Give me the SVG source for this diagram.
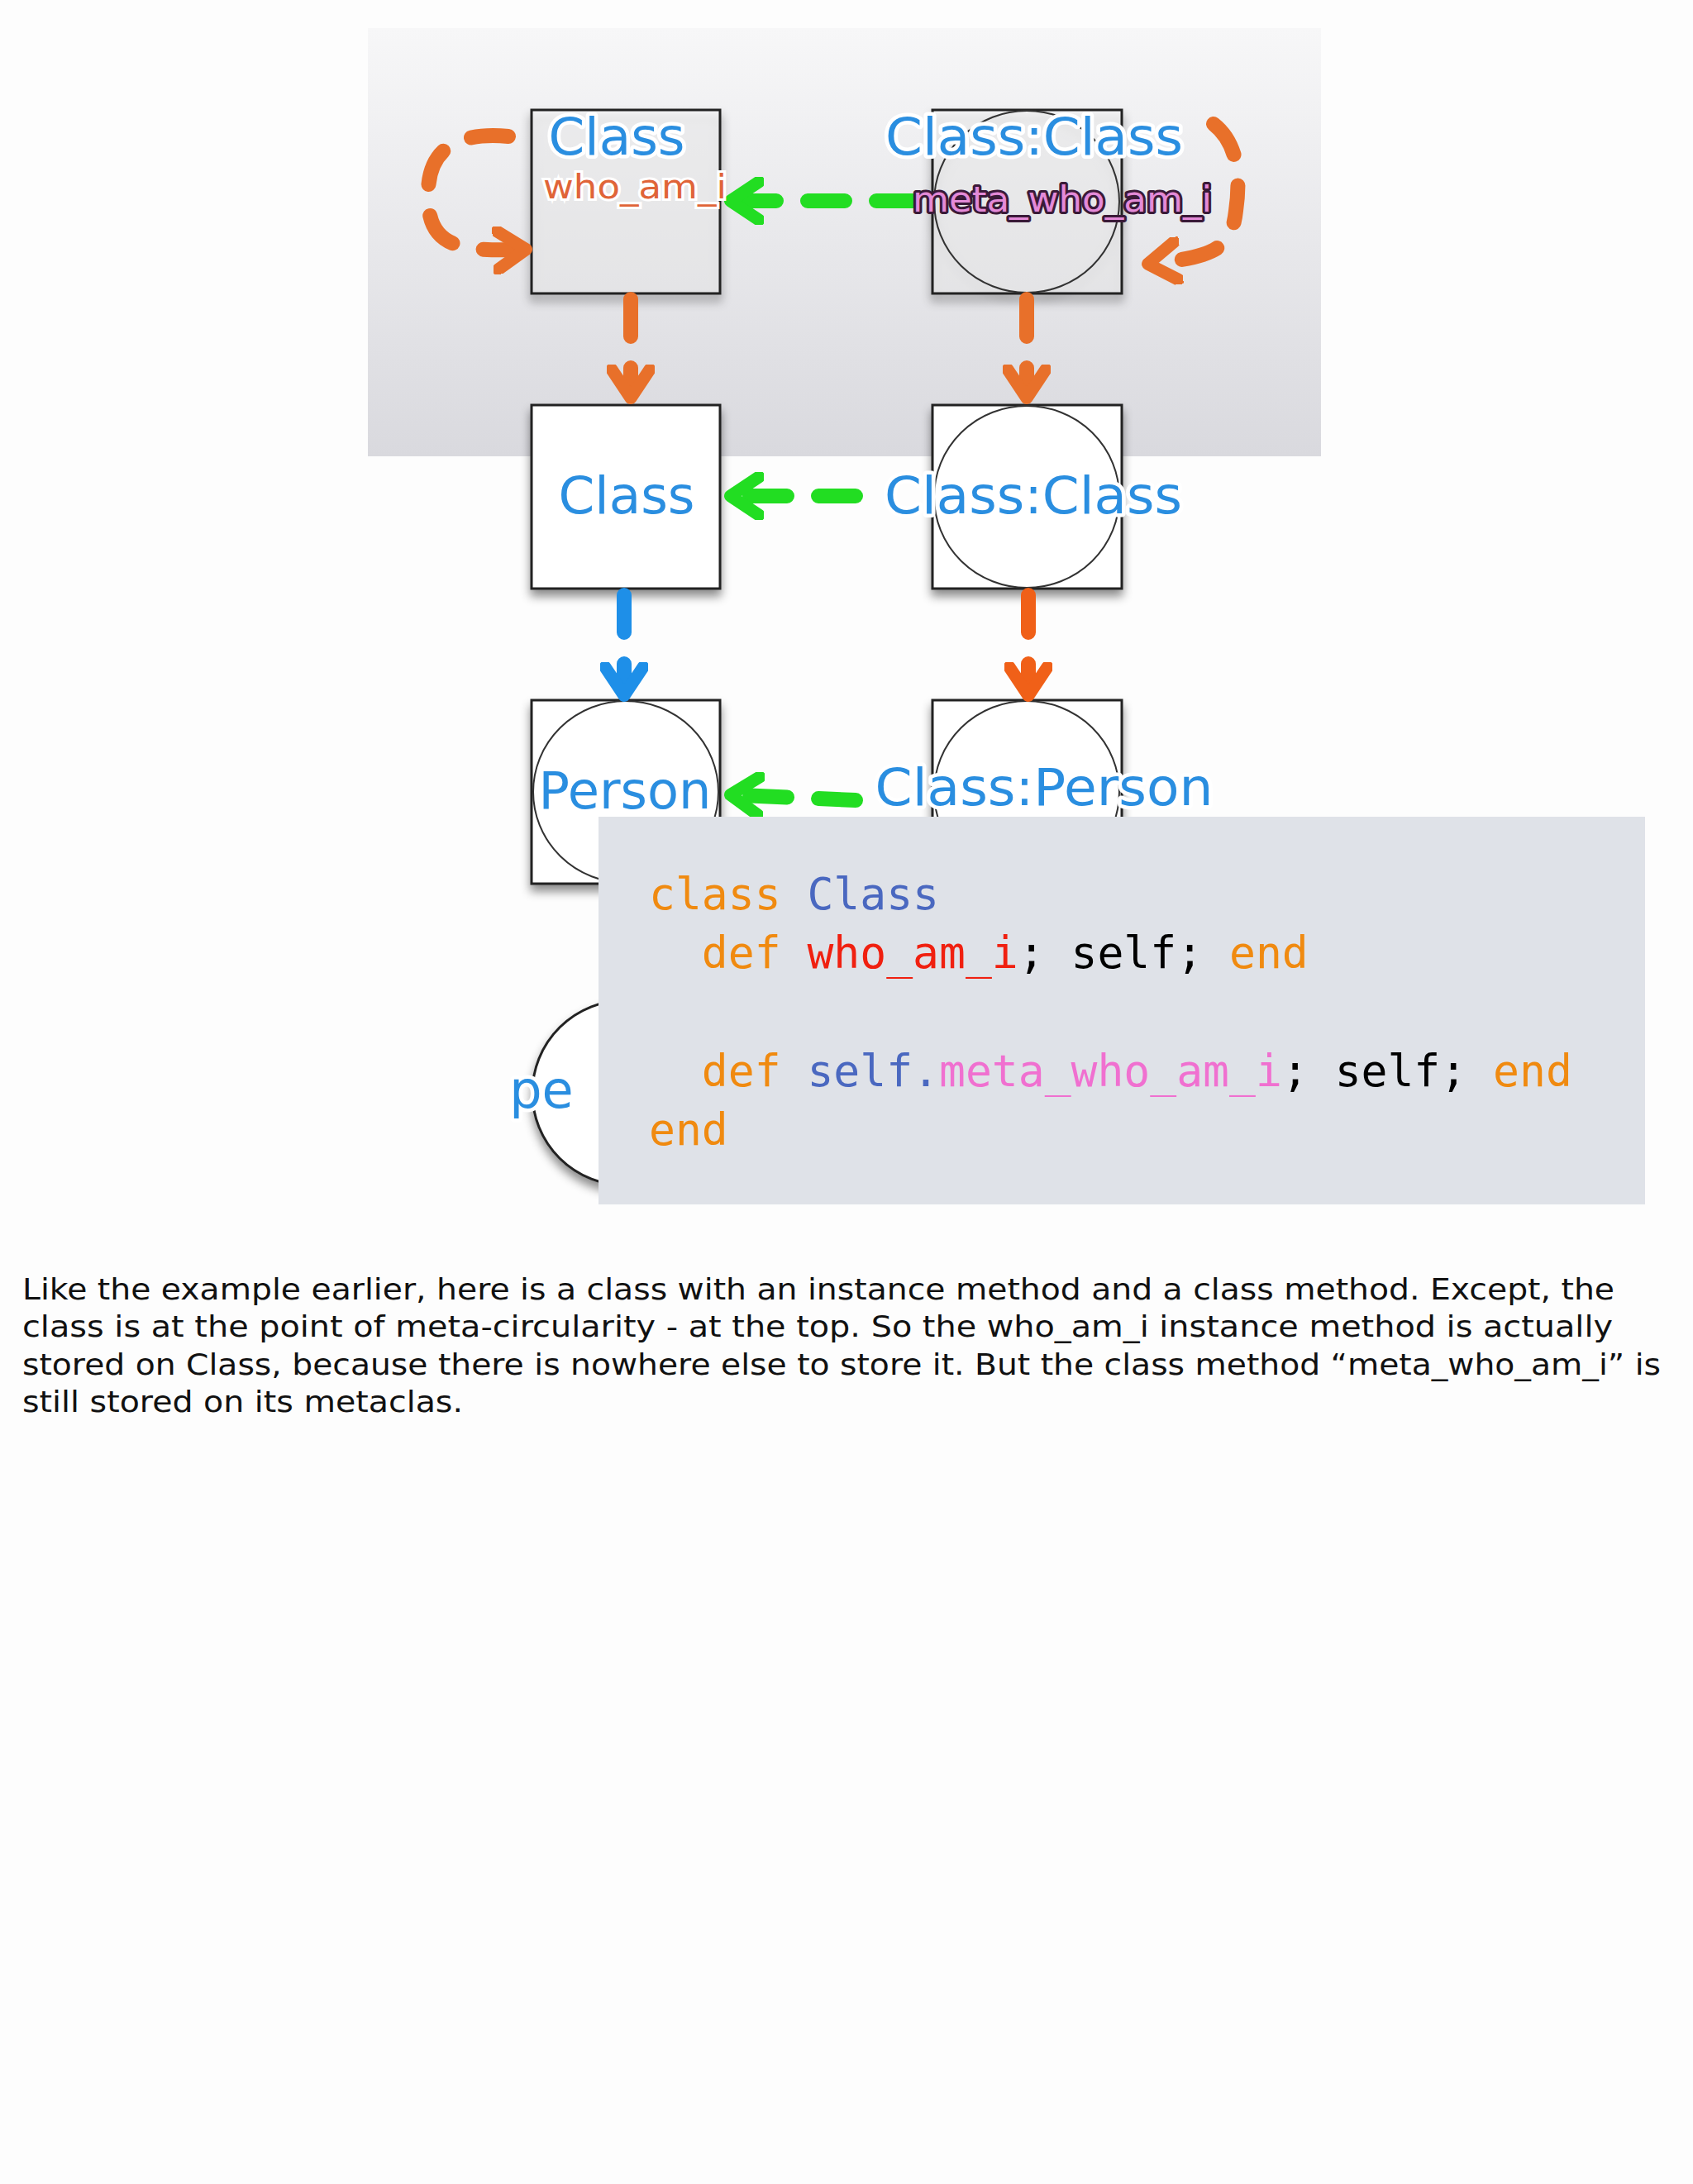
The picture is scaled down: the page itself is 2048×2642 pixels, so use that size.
<svg xmlns="http://www.w3.org/2000/svg" width="2048" height="2642" viewBox="0 0 2048 2642">
<defs>
<linearGradient id="pg" x1="0" y1="0" x2="0" y2="1"><stop offset="0" stop-color="#f7f7f8"/><stop offset="1" stop-color="#d9d9de"/></linearGradient>
<filter id="sh" x="-20%" y="-20%" width="140%" height="150%"><feDropShadow dx="0" dy="8" stdDeviation="6" flood-color="#000" flood-opacity="0.45"/></filter>
<marker id="ah" viewBox="0 0 10 10" refX="5" refY="5" markerWidth="3.2" markerHeight="3.2" orient="auto-start-reverse" markerUnits="strokeWidth"><path d="M1,1 L7,5 L1,9" fill="none" stroke="context-stroke" stroke-width="2.6" stroke-linecap="round" stroke-linejoin="round"/></marker>
</defs>
<style>
.box{fill:#fff;fill-opacity:0.35;stroke:#222;stroke-width:3}
.boxw{fill:#fff;stroke:#222;stroke-width:3}
.circ{fill:none;stroke:#333;stroke-width:2}
.lbl{font-family:"DejaVu Sans",sans-serif;font-weight:normal;fill:#2a8ee0;stroke:#fff;stroke-width:9;paint-order:stroke;stroke-linejoin:round;text-anchor:middle}
.conn{fill:none;stroke-width:18;stroke-linecap:round;stroke-dasharray:45 38}
.code{font-family:"DejaVu Sans Mono",monospace;font-size:53px}
.body{font-family:"DejaVu Sans",sans-serif;font-size:36px;fill:#111}
</style>
<rect width="2048" height="2642" fill="#fdfdfd"/>
<rect x="445" y="34" width="1153" height="518" fill="url(#pg)"/>
<g id="n-class-top" filter="url(#sh)"><rect class="box" x="643" y="133" width="228" height="222"/></g>
<g id="n-classclass-top" filter="url(#sh)"><rect class="box" x="1128" y="133" width="229" height="222"/><ellipse class="circ" cx="1242" cy="244" rx="112" ry="110"/></g>
<g id="n-class-mid" filter="url(#sh)"><rect class="boxw" x="643" y="490" width="228" height="222"/></g>
<g id="n-classclass-mid" filter="url(#sh)"><rect class="boxw" x="1128" y="490" width="229" height="222"/><ellipse class="circ" cx="1242" cy="601" rx="112" ry="110"/></g>
<g id="n-person" filter="url(#sh)"><rect class="boxw" x="643" y="847" width="228" height="222"/><ellipse class="circ" cx="757" cy="958" rx="112" ry="110"/></g>
<g id="n-classperson" filter="url(#sh)"><rect class="boxw" x="1128" y="847" width="229" height="222"/><ellipse class="circ" cx="1242" cy="958" rx="112" ry="110"/></g>
<g id="n-pe" filter="url(#sh)"><ellipse cx="757" cy="1322" rx="113" ry="112" fill="#fff" stroke="#222" stroke-width="3"/></g>
<g id="connectors">
<path class="conn" stroke="#e8702a" d="M615,165 C560,160 520,175 518,230 C516,290 540,305 625,302" marker-end="url(#ah)"/>
<path class="conn" stroke="#e8702a" d="M1468,150 C1500,175 1500,220 1495,255 C1490,300 1470,310 1400,318" marker-end="url(#ah)"/>
<path class="conn" stroke="#22dd22" d="M1105,243 L895,243" marker-end="url(#ah)"/>
<path class="conn" stroke="#e8702a" d="M763,362 L763,470" marker-end="url(#ah)"/>
<path class="conn" stroke="#e8702a" d="M1242,362 L1242,470" marker-end="url(#ah)"/>
<path class="conn" stroke="#22dd22" d="M1035,600 L895,600" marker-end="url(#ah)"/>
<path class="conn" stroke="#1e8fe8" d="M755,720 L755,830" marker-end="url(#ah)"/>
<path class="conn" stroke="#f06018" d="M1244,720 L1244,830" marker-end="url(#ah)"/>
<path class="conn" stroke="#22dd22" d="M1035,968 L895,962" marker-end="url(#ah)"/>
</g>
<text class="lbl" x="746" y="187" font-size="62" textLength="165" lengthAdjust="spacingAndGlyphs">Class</text>
<text x="768" y="240" font-size="40" text-anchor="middle" font-family="DejaVu Sans,sans-serif" fill="#e06438" stroke="#fff" stroke-width="6" paint-order="stroke" textLength="222" lengthAdjust="spacingAndGlyphs">who_am_i</text>
<text class="lbl" x="1251" y="187" font-size="62" textLength="360" lengthAdjust="spacingAndGlyphs">Class:Class</text>
<text x="1285" y="256" font-size="42" text-anchor="middle" font-family="DejaVu Sans,sans-serif" fill="#e48ad8" stroke="#3a1a38" stroke-width="6" paint-order="stroke" stroke-linejoin="round" textLength="362" lengthAdjust="spacingAndGlyphs">meta_who_am_i</text>
<text class="lbl" x="758" y="621" font-size="62" textLength="165" lengthAdjust="spacingAndGlyphs">Class</text>
<text class="lbl" x="1250" y="621" font-size="62" textLength="360" lengthAdjust="spacingAndGlyphs">Class:Class</text>
<text class="lbl" x="756" y="978" font-size="62" textLength="209" lengthAdjust="spacingAndGlyphs">Person</text>
<text class="lbl" x="1263" y="974" font-size="62" textLength="409" lengthAdjust="spacingAndGlyphs">Class:Person</text>
<text class="lbl" x="655" y="1340" font-size="62" text-anchor="start">pe</text>
<g id="code">
<rect x="724" y="988" width="1266" height="469" fill="#dfe2e8"/>
<text class="code" x="785" y="1100"><tspan fill="#f08a10">class </tspan><tspan fill="#4a68c0">Class</tspan></text>
<text class="code" x="785" y="1171" xml:space="preserve"><tspan fill="#f08a10">  def </tspan><tspan fill="#f02010">who_am_i</tspan><tspan fill="#000">; self; </tspan><tspan fill="#f08a10">end</tspan></text>
<text class="code" x="785" y="1314" xml:space="preserve"><tspan fill="#f08a10">  def </tspan><tspan fill="#4a68c0">self.</tspan><tspan fill="#f070d0">meta_who_am_i</tspan><tspan fill="#000">; self; </tspan><tspan fill="#f08a10">end</tspan></text>
<text class="code" x="785" y="1385" fill="#f08a10">end</text>
</g>
<text class="body" x="27" y="1572" textLength="1926" lengthAdjust="spacingAndGlyphs">Like the example earlier, here is a class with an instance method and a class method. Except, the</text>
<text class="body" x="27" y="1617" textLength="1924" lengthAdjust="spacingAndGlyphs">class is at the point of meta-circularity - at the top. So the who_am_i instance method is actually</text>
<text class="body" x="27" y="1663" textLength="1982" lengthAdjust="spacingAndGlyphs">stored on Class, because there is nowhere else to store it. But the class method “meta_who_am_i” is</text>
<text class="body" x="27" y="1708" textLength="533" lengthAdjust="spacingAndGlyphs">still stored on its metaclas.</text>
</svg>
